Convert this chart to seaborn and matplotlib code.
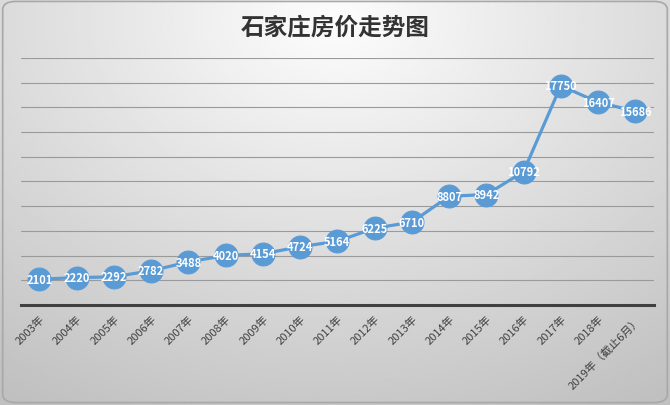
import numpy as np
import pandas as pd
import matplotlib.pyplot as plt
import seaborn as sns
from matplotlib.patches import FancyBboxPatch

years = ['2003年', '2004年', '2005年', '2006年', '2007年', '2008年', '2009年',
         '2010年', '2011年', '2012年', '2013年', '2014年', '2015年', '2016年',
         '2017年', '2018年', '2019年（截止6月）']
prices = [2101, 2220, 2292, 2782, 3488, 4020, 4154, 4724, 5164, 6225, 6710,
          8807, 8942, 10792, 17750, 16407, 15686]

data = pd.DataFrame({'year': years, 'price': prices})
data['pos'] = range(len(years))

sns.set_style('white')
plt.rcParams['font.family'] = ['Noto Sans CJK SC', 'DejaVu Sans']

fig = plt.figure(figsize=(6.7, 4.06), dpi=100)

# background gradient + rounded border
bg = fig.add_axes([0, 0, 1, 1])
yy, xx = np.mgrid[0:1:200j, 0:1:330j]
grad = np.sqrt(((xx - 0.5) * 1.1) ** 2 + ((yy - 0.05) * 0.9) ** 2)
grad = 0.99 - 0.24 * np.clip(grad / 1.0, 0, 1)
bg.imshow(grad, cmap='gray', vmin=0, vmax=1, extent=[0, 1, 0, 1],
          origin='upper', aspect='auto')
bg.add_patch(FancyBboxPatch((0.004, 0.006), 0.992, 0.988,
                            boxstyle='round,pad=0,rounding_size=0.02',
                            fill=False, edgecolor='#a8a8a8', linewidth=1.2,
                            transform=bg.transAxes))
bg.set_xlim(0, 1)
bg.set_ylim(0, 1)
bg.axis('off')

ax = fig.add_axes([0.031, 0.246, 0.945, 0.609])
ax.patch.set_alpha(0)
sns.lineplot(data=data, x='pos', y='price', ax=ax, color='#5b9bd5',
             linewidth=2.3, marker='o', markersize=16.5,
             markeredgecolor='#5b9bd5', zorder=3)

for x, y in zip(data['pos'], data['price']):
    ax.text(x, y, str(y), ha='center', va='center', color='white',
            fontsize=8, fontweight='bold', zorder=4)

ax.set_xlim(-0.5, len(years) - 0.5)
ax.set_ylim(0, 20000)
ax.set_yticks(range(0, 20001, 2000))
ax.set_yticklabels([])
ax.tick_params(axis='y', length=0)
ax.grid(axis='y', color='#9a9a9a', linewidth=0.8)
ax.set_axisbelow(True)
for s in ['left', 'right', 'top']:
    ax.spines[s].set_visible(False)
ax.spines['bottom'].set_color('#404040')
ax.spines['bottom'].set_linewidth(2.2)

ax.set_xticks(data['pos'])
ax.set_xticklabels(years, rotation=45, ha='right', rotation_mode='anchor',
                   fontsize=8, color='#404040')
ax.tick_params(axis='x', length=0, pad=6)
ax.set_xlabel('')
ax.set_ylabel('')

fig.text(0.5, 0.933, '石家庄房价走势图', ha='center', va='center',
         fontsize=17, fontweight='bold', color='#333333')

fig.savefig('out.png', dpi=100)
